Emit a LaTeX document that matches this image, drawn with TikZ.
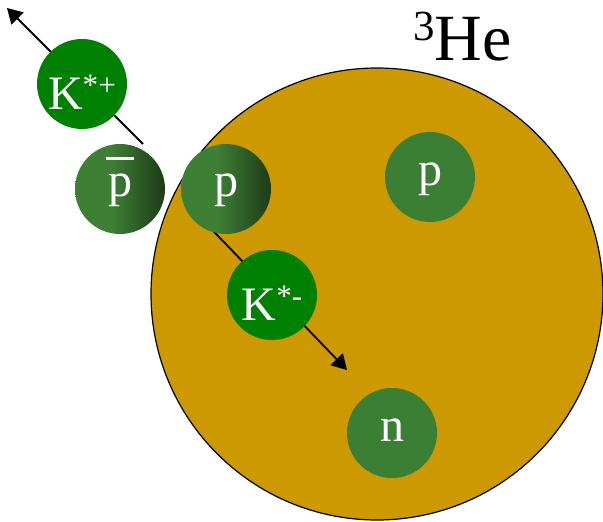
\documentclass[tikz,border=0pt]{standalone}
\usepackage{fontspec}
\setmainfont{Liberation Serif}
\usepackage{graphicx}
\usetikzlibrary{arrows.meta}
\definecolor{heliumgold}{HTML}{CC9900}
\definecolor{kaongreen}{HTML}{008000}
\definecolor{nucleongreen}{HTML}{3A7F33}
\definecolor{nucleonlight}{HTML}{3E7F36}
\definecolor{nucleondark}{HTML}{1D3B17}
\pgfdeclarehorizontalshading{nucleonshade}{100bp}{color(0bp)=(nucleonlight); color(45bp)=(nucleonlight); color(75bp)=(nucleondark); color(100bp)=(nucleondark)}
\newcommand{\sups}[1]{\raisebox{0.29em}{\scalebox{0.65}{#1}}}
\newcommand{\antip}[1]{\ooalign{\hfil\raisebox{0.74em}{\rule{0.6em}{0.07em}}\hfil\cr\hfil#1\hfil\cr}}

\begin{document}
\begin{tikzpicture}[
    x=1pt, y=-1pt,
    particle/.style={circle, minimum size=90pt, inner sep=0pt, text=white,
                     font=\fontsize{48}{50}\selectfont, text depth=0pt},
    kaon/.style={particle, fill=kaongreen, text height=50pt},
    nucleon/.style={particle, fill=nucleongreen, text height=16pt},
    incoming/.style={particle, shading=nucleonshade, text height=14pt},
    track/.style={line width=1.8pt, -{Triangle[length=15pt, width=17pt]}},
]
    \useasboundingbox (0,0) rectangle (603,522);

    % 3He nucleus
    \node[circle, draw, line width=1.2pt, fill=heliumgold, minimum size=452pt,
          inner sep=0pt] (helium) at (377,294) {};
    \node[anchor=base west, inner sep=0pt, font=\fontsize{66}{70}\selectfont]
        (helabel) at (413,60) {\sups{3}He};

    % tracks
    \coordinate (kpstart) at (143,144);
    \coordinate (kptip) at (7,8);
    \coordinate (kmstart) at (195,212);
    \coordinate (kmtip) at (347,370);
    \draw[track] (kpstart) -- (kptip);
    \draw[track] (kmstart) -- (kmtip);

    % incoming pair
    \node[incoming] (pbar) at (120,189) {\antip{p}};
    \node[incoming] (ptarget) at (226,189) {p};

    % spectators
    \node[nucleon] (pspec) at (430,177) {p};
    \node[nucleon] (nspec) at (392,433) {n};

    % produced kaons
    \node[kaon] (kplus) at (82,84) {K\sups{*+}};
    \node[kaon] (kminus) at (272,295) {K\sups{*-}};
\end{tikzpicture}
\end{document}
